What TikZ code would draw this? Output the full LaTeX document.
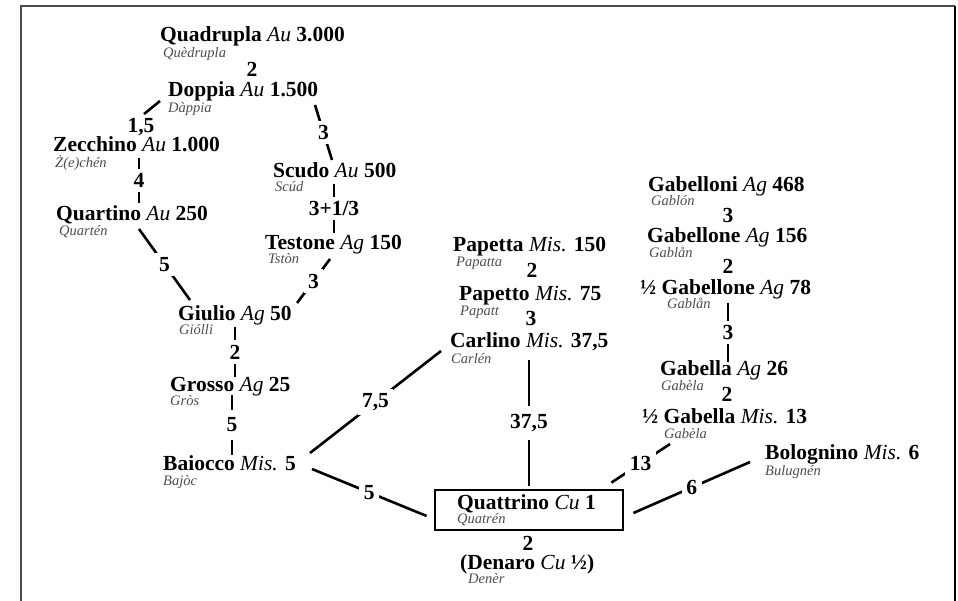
\documentclass[tikz,border=0pt]{standalone}
\usepackage{fontspec}
\setmainfont{Liberation Serif}
\usetikzlibrary{positioning}
\usetikzlibrary{calc}
\newcommand{\metal}[1]{{\mdseries\itshape #1}}

\begin{document}
\begin{tikzpicture}[x=1pt,y=-1pt]
	\tikzstyle{coin} = [anchor=base west,inner sep=0pt,font=\fontsize{21.5}{23}\selectfont\bfseries]
	\tikzstyle{dial} = [anchor=base west,inner sep=0pt,font=\fontsize{14.5}{16}\selectfont\itshape,text=black!70]
	\tikzstyle{num} = [inner sep=1pt,font=\fontsize{21.5}{23}\selectfont\bfseries]
	\tikzstyle{cut} = [num,fill=white,inner sep=4.5pt]
	\tikzstyle{link} = [line width=2.6pt]
	\tikzstyle{coinbox} = [draw,line width=2.8pt,minimum width=188pt,minimum height=40pt,inner sep=0pt]

	\useasboundingbox (0,0) rectangle (958,601);
	% frame
	\draw[line width=2pt,black!70] (21,601) -- (21,6) -- (955,6);
	\draw[line width=2pt] (955,6) -- (955,601);

	% gold and silver, left
	\node[coin] (quad) at (160,42) {Quadrupla \metal{Au} 3.000};
	\node[dial] (quadD) at ($(quad.base west)+(3,16)$) {Quèdrupla};
	\node[coin] (dop) at (168,97) {Doppia \metal{Au} 1.500};
	\node[dial] (dopD) at ($(dop.base west)+(0,16)$) {Dàppia};
	\node[coin] (zec) at (53,152) {Zecchino \metal{Au} 1.000};
	\node[dial] (zecD) at ($(zec.base west)+(2,16)$) {Ż(e)chén};
	\node[coin] (quar) at (56,221) {Quartino \metal{Au} 250};
	\node[dial] (quarD) at ($(quar.base west)+(3,15)$) {Quartén};
	\node[coin] (scu) at (273,178) {Scudo \metal{Au} 500};
	\node[dial] (scuD) at ($(scu.base west)+(2,14)$) {Scúd};
	\node[coin] (tes) at (265,250) {Testone \metal{Ag} 150};
	\node[dial] (tesD) at ($(tes.base west)+(3,14)$) {Tstòn};
	\node[coin] (giu) at (178,321) {Giulio \metal{Ag} 50};
	\node[dial] (giuD) at ($(giu.base west)+(1,14)$) {Giólli};
	\node[coin] (gro) at (170,391) {Grosso \metal{Ag} 25};
	\node[dial] (groD) at ($(gro.base west)+(0,14)$) {Gròs};
	\node[coin] (bai) at (163,470) {Baiocco \metal{Mis.} 5};
	\node[dial] (baiD) at ($(bai.base west)+(0,15)$) {Bajòc};

	% middle
	\node[coin] (pta) at (453,252) {Papetta \metal{Mis.} 150};
	\node[dial] (ptaD) at ($(pta.base west)+(3,15)$) {Papatta};
	\node[coin] (pto) at (459,301) {Papetto \metal{Mis.} 75};
	\node[dial] (ptoD) at ($(pto.base west)+(1,15)$) {Papatt};
	\node[coin] (car) at (450,348) {Carlino \metal{Mis.} 37,5};
	\node[dial] (carD) at ($(car.base west)+(1,15)$) {Carlén};

	\node[coinbox] (box) at (529,510) {};
	\node[coin] (quat) at (457,509) {Quattrino \metal{Cu} 1};
	\node[dial] (quatD) at ($(quat.base west)+(0,14)$) {Quatrén};
	\node[coin] (den) at (460,569) {(Denaro \metal{Cu} ½)};
	\node[dial] (denD) at ($(den.base west)+(8,14)$) {Denèr};

	% right
	\node[coin] (gabi) at (648,192) {Gabelloni \metal{Ag} 468};
	\node[dial] (gabiD) at ($(gabi.base west)+(3,14)$) {Gablón};
	\node[coin] (gabe) at (647,243) {Gabellone \metal{Ag} 156};
	\node[dial] (gabeD) at ($(gabe.base west)+(2,15)$) {Gablån};
	\node[coin] (hgabe) at (640,295) {½ Gabellone \metal{Ag} 78};
	\node[dial] (hgabeD) at ($(hgabe.base west)+(27,14)$) {Gablån};
	\node[coin] (gab) at (660,375) {Gabella \metal{Ag} 26};
	\node[dial] (gabD) at ($(gab.base west)+(1,15)$) {Gabèla};
	\node[coin] (hgab) at (642,423) {½ Gabella \metal{Mis.} 13};
	\node[dial] (hgabD) at ($(hgab.base west)+(22,15)$) {Gabèla};
	\node[coin] (bol) at (765,459) {Bolognino \metal{Mis.} 6};
	\node[dial] (bolD) at ($(bol.base west)+(0,16)$) {Bulugnén};

	% ratios without a line
	\node[num] (quad-dop) at (252,69) {2};
	\node[num] (dop-zec) at (141,127) {1,5};
	\node[num] (pta-pto) at (532,270) {2};
	\node[num] (pto-car) at (531,318) {3};
	\node[num] (gabi-gabe) at (728,215) {3};
	\node[num] (gabe-hgabe) at (728,266) {2};
	\node[num] (gab-hgab) at (727,394) {2};
	\node[num] (quat-den) at (528,543) {2};

	\begin{scope}[link]
		\draw ($(dop.base west)+(-8,4)$) -- ($(dop-zec.north)+(3,-3)$);
		\draw ($(zec.base west)+(86,6)$) -- node[cut] (zec-quar) {4} ($(quar.base west)+(83,-18)$);
		\draw ($(quar.base west)+(83,8)$) -- node[cut] (quar-giu) {5} ($(giu.base west)+(12,-21)$);
		\draw ($(dop.base west)+(147,8)$) -- node[cut] (dop-scu) {3} ($(scu.base west)+(59,-18)$);
		\draw ($(scu.base west)+(61,6)$) -- node[cut] (scu-tes) {3+1/3} ($(tes.base west)+(69,-17)$);
		\draw ($(tes.base west)+(65,9)$) -- node[cut] (tes-giu) {3} ($(giu.base west)+(119,-18)$);
		\draw ($(giu.base west)+(57,6)$) -- node[cut] (giu-gro) {2} ($(gro.base west)+(65,-14)$);
		\draw ($(gro.base west)+(62,4)$) -- node[cut,inner sep=8pt] (gro-bai) {5} ($(bai.base west)+(69,-15)$);
		\draw ($(bai.base west)+(147,-17)$) -- node[cut] (bai-car) {7,5} ($(car.base west)+(-9,3)$);
		\draw ($(bai.base west)+(149,-1)$) -- node[cut] (bai-quat) {5} ($(box.west)+(-7,6)$);
		\draw ($(car.base west)+(79,12)$) -- node[cut,inner sep=8pt] (car-quat) {37,5} ($(box.north)+(0,-3)$);
		\draw ($(hgabe.base west)+(88,8)$) -- node[cut] (hgabe-gab) {3} ($(gab.base west)+(68,-13)$);
		\draw ($(hgab.base west)+(28,21)$) -- node[cut] (hgab-quat) {13} ($(box.north east)+(-13,-6)$);
		\draw ($(bol.base west)+(-15,3)$) -- node[cut] (bol-quat) {6} ($(box.east)+(9,3)$);
	\end{scope}
\end{tikzpicture}
\end{document}
